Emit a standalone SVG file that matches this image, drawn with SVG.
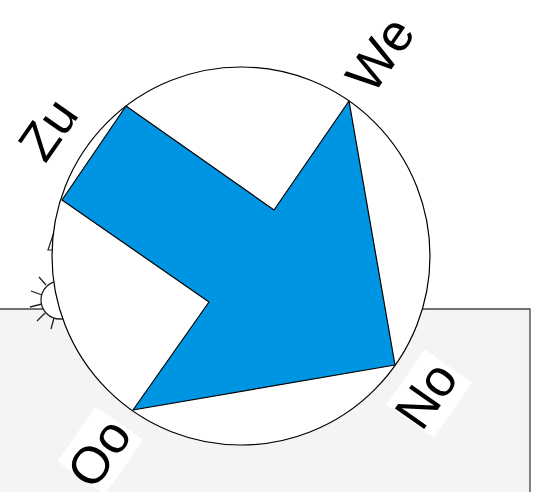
<svg xmlns="http://www.w3.org/2000/svg" width="540" height="492" viewBox="0 0 540 492">
<style>
.lab{font-family:"Liberation Sans",Arial,sans-serif;font-size:52px;fill:#000;text-anchor:middle;dominant-baseline:central}
.ray{stroke:#222;stroke-width:1.3;fill:none}
</style>
<rect width="540" height="492" fill="#fff"/>
<g id="ground"><path d="M-2 309H530V494H-2Z" fill="#f4f4f4" stroke="#444" stroke-width="1.3"/></g>
<g id="sun">
<circle cx="60" cy="300" r="19" fill="#fff" stroke="#222" stroke-width="1.3"/>
<path class="ray" d="M39 277L46 285M31 291L42 295M30 307L42 304M37 321L45 313M51 329L54 318"/>
</g>
<g id="marker"><path d="M54 232L48 250H60Z" fill="#fff" stroke="#222" stroke-width="1.2"/></g>
<g id="dial"><circle cx="241" cy="256" r="189" fill="#fff" stroke="#000" stroke-width="1.2"/></g>
<g id="connectors"><path id="arrow" d="M126 106L274 210L349 101L395 365L133 410L209 302L62 200Z" fill="#0095e2" stroke="#000" stroke-width="1.2" stroke-linejoin="round"/></g>
<g id="label-zu"><text class="lab" transform="translate(48 129) rotate(-55)">Zu</text></g>
<g id="label-we"><text class="lab" transform="translate(380 54) rotate(-55)">We</text></g>
<g id="label-no"><rect x="-33" y="-29" width="67" height="58" fill="#fff" transform="translate(429 394) rotate(-55)"/><text class="lab" transform="translate(426 395) rotate(-55)">No</text></g>
<g id="label-oo"><rect x="-33" y="-29" width="67" height="58" fill="#fff" transform="translate(100 451) rotate(-55)"/><text class="lab" transform="translate(99 453) rotate(-55)">Oo</text></g>
</svg>
